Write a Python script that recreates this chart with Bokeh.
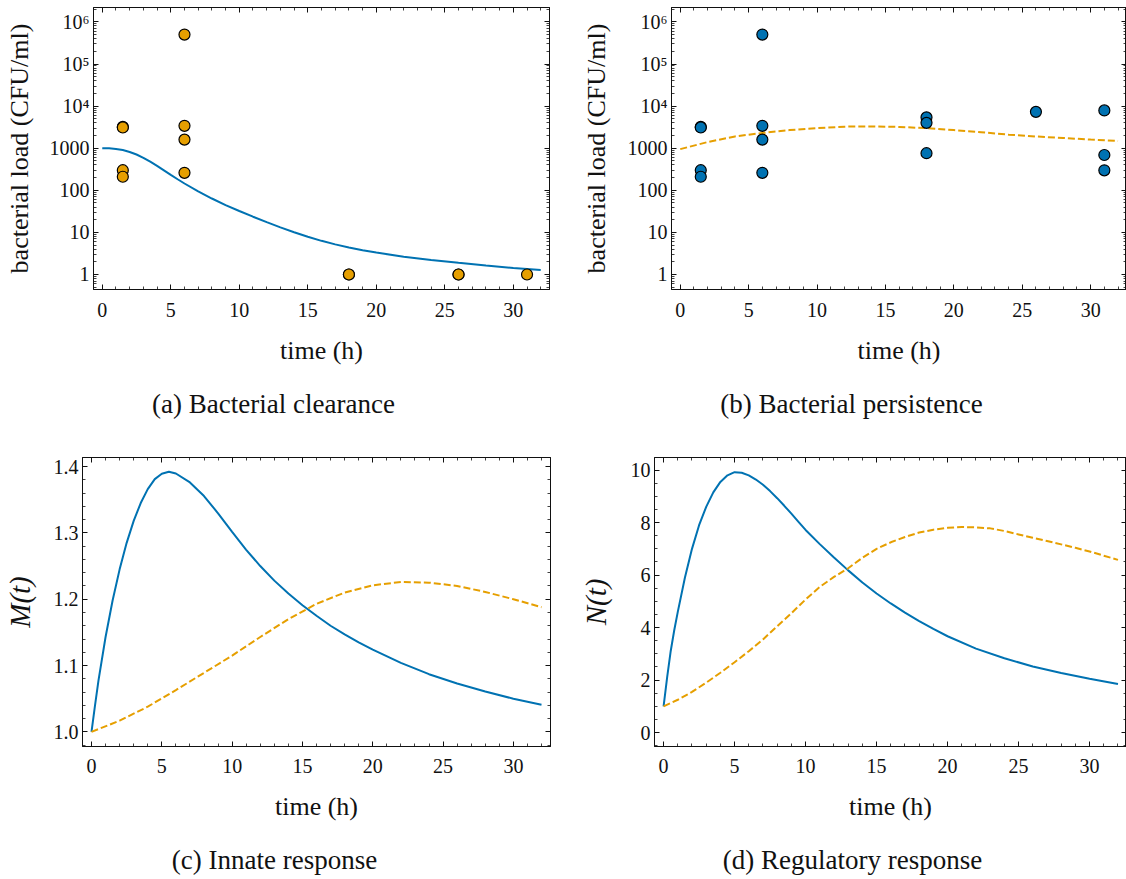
from bokeh.plotting import figure
from bokeh.models import Range1d, FixedTicker, LinearAxis, CustomJSTickFormatter
from bokeh.core.properties import value
from bokeh.layouts import column, row
from bokeh.embed import file_html
from bokeh.resources import INLINE

# ------------------------------------------------------------------ data
# (a) bacterial clearance: observations and model fit
obs_time_clear = [1.5, 1.5, 1.5, 1.5, 6, 6, 6, 6, 18, 18, 26, 26, 31]
obs_load_clear = [3200, 3100, 300, 210, 5.0e5, 3400, 1600, 260, 1, 1, 1, 1, 1]
fit_time_clear = [0, 0.5, 1, 1.5, 2, 2.5, 3, 3.5, 4, 4.5, 5, 5.5, 6, 7, 8, 9, 10, 11, 12, 13, 14,
                  15, 16, 17, 18, 19, 20, 22, 24, 26, 28, 30, 32]
fit_load_clear = [1000, 991, 959, 902, 815, 708, 592, 480, 380, 298, 233, 183, 145, 94.3, 63.8,
                  44.6, 32.2, 23.6, 17.5, 13.2, 10.1, 7.87, 6.30, 5.19, 4.38, 3.77, 3.31, 2.65,
                  2.21, 1.89, 1.63, 1.43, 1.27]

# (b) bacterial persistence: observations and model fit
obs_time_pers = [1.5, 1.5, 1.5, 1.5, 6, 6, 6, 6, 18, 18, 18, 26, 31, 31, 31]
obs_load_pers = [3200, 3100, 300, 210, 5.0e5, 3400, 1600, 260, 5400, 4000, 760, 7300, 7900, 690, 298]
fit_time_pers = [0, 2, 4, 6, 8, 10, 12, 14, 16, 18, 20, 22, 24, 26, 28, 30, 32]
fit_load_pers = [950, 1400, 1900, 2300, 2700, 3000, 3250, 3300, 3200, 3000, 2700, 2400,
                 2100, 1900, 1750, 1600, 1480]

# (c) innate response M(t)
m_time_clear = [0, 0.25, 0.5, 1, 1.5, 2, 2.5, 3, 3.5, 4, 4.5, 5, 5.5, 6, 7, 8, 9, 10, 11, 12,
                13, 14, 15, 16, 17, 18, 19, 20, 22, 24, 26, 28, 30, 32]
m_clear = [1.000, 1.040, 1.078, 1.143, 1.198, 1.245, 1.285, 1.318, 1.345, 1.366, 1.381, 1.389,
           1.392, 1.3895, 1.376, 1.3555, 1.3295, 1.3015, 1.2745, 1.250, 1.228, 1.2085, 1.191,
           1.175, 1.160, 1.147, 1.135, 1.124, 1.104, 1.087, 1.073, 1.061, 1.050, 1.041]
m_time_pers = [0, 2, 4, 6, 8, 10, 12, 14, 16, 18, 20, 22, 24, 26, 28, 30, 32]
m_pers = [1.000, 1.017, 1.038, 1.063, 1.089, 1.115, 1.143, 1.170, 1.193, 1.210, 1.221, 1.226,
          1.225, 1.220, 1.211, 1.200, 1.188]

# (d) regulatory response N(t)
n_time_clear = [0, 0.25, 0.5, 0.75, 1, 1.5, 2, 2.5, 3, 3.5, 4, 4.5, 5, 5.5, 6, 6.5, 7, 7.5, 8,
                8.5, 9, 9.5, 10, 11, 12, 13, 14, 15, 16, 17, 18, 19, 20, 22, 24, 26, 28, 30, 32]
n_clear = [1.0, 2.1, 3.1, 3.9, 4.6, 5.9, 7.0, 7.9, 8.6, 9.15, 9.55, 9.8, 9.92, 9.9, 9.8, 9.64,
           9.44, 9.2, 8.93, 8.64, 8.34, 8.03, 7.72, 7.18, 6.67, 6.18, 5.72, 5.3, 4.92, 4.57,
           4.25, 3.95, 3.67, 3.2, 2.83, 2.52, 2.27, 2.05, 1.85]
n_time_pers = [0, 1, 2, 3, 4, 5, 6, 7, 8, 9, 10, 11, 12, 13, 14, 15, 16, 17, 18, 19, 20, 21, 22,
               23, 24, 25, 26, 27, 28, 29, 30, 31, 32]
n_pers = [1.0, 1.25, 1.55, 1.9, 2.28, 2.68, 3.1, 3.55, 4.05, 4.55, 5.07, 5.55, 5.93, 6.26, 6.66,
          7.0, 7.25, 7.45, 7.62, 7.73, 7.8, 7.83, 7.82, 7.78, 7.68, 7.55, 7.42, 7.3, 7.17, 7.04,
          6.9, 6.74, 6.58]

x_major_ticks = [0, 5, 10, 15, 20, 25, 30]
log_major_ticks = [1, 10, 100, 1000, 1e4, 1e5, 1e6]
m_major_ticks = [1.0, 1.1, 1.2, 1.3, 1.4]
n_major_ticks = [0, 2, 4, 6, 8, 10]

x_label = "time (h)"
load_label = "bacterial load (CFU/ml)"
m_label = "M(t)"
n_label = "N(t)"
captions = ["(a) Bacterial clearance", "(b) Bacterial persistence",
            "(c) Innate response", "(d) Regulatory response"]

# ------------------------------------------------------------------ style
FONT = "Liberation Serif"
BLUE = "#0072B2"
ORANGE = "#E69F00"
INK = "#111111"

x_minor = list(range(0, 33))
log_minor = [k * 10.0 ** e for e in range(-1, 7) for k in range(2, 10)
             if 0.44 <= k * 10.0 ** e <= 2.2e6]
m_minor = [round(0.98 + 0.02 * i, 2) for i in range(22)]
n_minor = [i * 0.5 for i in range(-1, 22)]

fmt_int = CustomJSTickFormatter(code="return tick.toFixed(0);")
fmt_one = CustomJSTickFormatter(code="return tick.toFixed(1);")
fmt_log = CustomJSTickFormatter(code="""
const e = Math.round(Math.log10(tick));
if (e < 4) { return String(Math.round(tick)); }
const sup = ["\\u2070","\\u00b9","\\u00b2","\\u00b3","\\u2074","\\u2075","\\u2076","\\u2077","\\u2078","\\u2079"];
return "10" + sup[e];
""")
fmt_blank = CustomJSTickFormatter(code="return '';")


def style_axis(ax, ticker, formatter, hidden=False, standoff=4):
    ax.ticker = ticker
    ax.formatter = formatter
    ax.major_tick_in = 5
    ax.major_tick_out = 0
    ax.minor_tick_in = 3
    ax.minor_tick_out = 0
    ax.major_tick_line_color = INK
    ax.minor_tick_line_color = INK
    ax.major_tick_line_width = 1
    ax.minor_tick_line_width = 0.8
    ax.axis_line_color = INK
    ax.axis_line_width = 1
    ax.major_label_text_font = FONT
    ax.major_label_text_color = INK
    ax.major_label_text_font_size = "0px" if hidden else "20px"
    ax.major_label_standoff = 0 if hidden else standoff
    ax.axis_label_text_font = FONT
    ax.axis_label_text_color = INK


def make_panel(w, h, bl, br, bt, bb, x_end, y_rng, log, yticks, yminor, yfmt,
               ylabel, ylabel_size, ylabel_style, ylabel_standoff,
               xtick_standoff, xlabel_standoff):
    p = figure(width=w, height=h, x_range=Range1d(-0.64, x_end), y_range=Range1d(*y_rng),
               y_axis_type="log" if log else "linear", output_backend="svg",
               toolbar_location=None, title=None,
               min_border_left=bl, min_border_right=br, min_border_top=bt, min_border_bottom=bb)
    p.grid.visible = False
    p.outline_line_color = INK
    p.outline_line_width = 1
    p.background_fill_color = "white"
    p.border_fill_color = "white"

    xt = FixedTicker(ticks=x_major_ticks, minor_ticks=x_minor)
    yt = FixedTicker(ticks=yticks, minor_ticks=yminor)

    xa = p.xaxis[0]
    style_axis(xa, xt, fmt_int, standoff=xtick_standoff)
    xa.axis_label = x_label
    xa.axis_label_text_font_size = "26px"
    xa.axis_label_text_font_style = "normal"
    xa.axis_label_standoff = xlabel_standoff

    ya = p.yaxis[0]
    style_axis(ya, yt, yfmt, standoff=4)
    ya.axis_label = ylabel
    ya.axis_label_text_font_size = ylabel_size
    ya.axis_label_text_font_style = ylabel_style
    ya.axis_label_standoff = ylabel_standoff

    top = LinearAxis()
    style_axis(top, xt, fmt_blank, hidden=True)
    p.add_layout(top, "above")
    right = LinearAxis()
    style_axis(right, yt, fmt_blank, hidden=True)
    p.add_layout(right, "right")
    return p


def make_caption(w, h, text, cx, cy):
    c = figure(width=w, height=h, x_range=Range1d(0, w), y_range=Range1d(0, h),
               output_backend="svg", toolbar_location=None, title=None,
               x_axis_location=None, y_axis_location=None,
               min_border_left=0, min_border_right=0, min_border_top=0, min_border_bottom=0)
    c.grid.visible = False
    c.outline_line_color = None
    c.background_fill_color = "white"
    c.border_fill_color = "white"
    c.text(x=[cx], y=[cy], text=[text], text_align="center", text_baseline="alphabetic",
           text_font=value(FONT), text_font_size=value("27px"), text_color=INK)
    return c


pa = make_panel(560, 380, 93, 11, 7, 91, 32.64, (0.44, 2.2e6), True,
                log_major_ticks, log_minor, fmt_log, load_label, "26px", "normal", 13, 13, 16)
pa.line(fit_time_clear, fit_load_clear, line_color=BLUE, line_width=2)
pa.scatter(obs_time_clear, obs_load_clear, size=11, marker="circle",
           fill_color=ORANGE, line_color="black", line_width=1.2)

pb = make_panel(566, 380, 111, 0, 7, 91, 32.62, (0.44, 2.2e6), True,
                log_major_ticks, log_minor, fmt_log, load_label, "26px", "normal", 14, 13, 16)
pb.line(fit_time_pers, fit_load_pers, line_color=ORANGE, line_width=2, line_dash="7 3")
pb.scatter(obs_time_pers, obs_load_pers, size=11, marker="circle",
           fill_color=BLUE, line_color="black", line_width=1.2)

pc = make_panel(560, 394, 81, 10, 19, 86, 32.64, (0.978, 1.4136), False,
                m_major_ticks, m_minor, fmt_one, m_label, "29px", "italic", 15, 12, 16)
pc.line(m_time_clear, m_clear, line_color=BLUE, line_width=2)
pc.line(m_time_pers, m_pers, line_color=ORANGE, line_width=2, line_dash="7 3")

pd = make_panel(566, 394, 94, 0, 19, 86, 32.6, (-0.53, 10.48), False,
                n_major_ticks, n_minor, fmt_int, n_label, "29px", "italic", 16, 12, 16)
pd.line(n_time_clear, n_clear, line_color=BLUE, line_width=2)
pd.line(n_time_pers, n_pers, line_color=ORANGE, line_width=2, line_dash="7 3")

ca = make_caption(560, 58, captions[0], 273, 35)
cb = make_caption(566, 58, captions[1], 291, 35)
cc = make_caption(560, 47, captions[2], 274, 20)
cd = make_caption(566, 47, captions[3], 292, 20)

layout = column(row(pa, pb), row(ca, cb), row(pc, pd), row(cc, cd))

with open("out.html", "w", encoding="utf-8") as f:
    f.write(file_html(layout, INLINE))
